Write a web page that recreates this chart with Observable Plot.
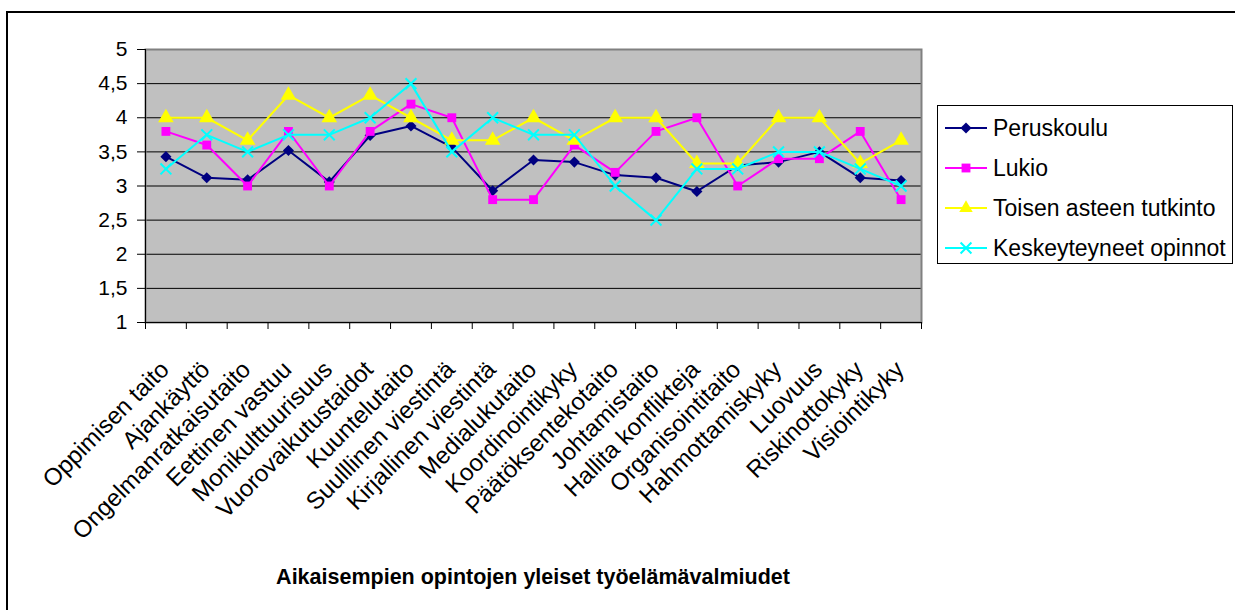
<!DOCTYPE html>
<html><head><meta charset="utf-8">
<script src="https://cdn.jsdelivr.net/npm/d3@7"></script>
<script src="https://cdn.jsdelivr.net/npm/@observablehq/plot@0.6"></script>
<style>
body{margin:0;background:#fff;font-family:Arial,"Liberation Sans",sans-serif;}
#wrap{position:relative;width:1235px;height:610px;overflow:hidden;background:#fff;}
#border{position:absolute;left:6px;top:11px;width:1260px;height:640px;border:2px solid #000;box-sizing:border-box;}
#chart{position:absolute;left:0;top:0;}
#title{position:absolute;left:145px;width:776px;top:565px;line-height:24px;text-align:center;font-weight:bold;font-size:21.5px;color:#000;}
#legend{position:absolute;left:937px;top:105px;}
</style></head><body>
<div id="wrap"><div id="border"></div><div id="chart"></div><div id="title">Aikaisempien opintojen yleiset työelämävalmiudet</div><svg id="legend" width="297" height="160"></svg></div>
<script>
const categories = ["Oppimisen taito","Ajankäyttö","Ongelmanratkaisutaito","Eettinen vastuu","Monikulttuurisuus","Vuorovaikutustaidot","Kuuntelutaito","Suulllinen viestintä","Kirjallinen viestintä","Medialukutaito","Koordinointikyky","Päätöksentekotaito","Johtamistaito","Hallita konflikteja","Organisointitaito","Hahmottamiskyky","Luovuus","Riskinottokyky","Visiointikyky"];
const seriesNames = ["Peruskoulu","Lukio","Toisen asteen tutkinto","Keskeyteyneet opinnot"];
const peruskoulu = [3.43,3.12,3.09,3.52,3.06,3.74,3.88,3.57,2.93,3.38,3.35,3.16,3.12,2.92,3.30,3.35,3.50,3.12,3.08];
const lukio = [3.8,3.6,3.0,3.8,3.0,3.8,4.2,4.0,2.8,2.8,3.6,3.2,3.8,4.0,3.0,3.4,3.4,3.8,2.8];
const toisen = [4.0,4.0,3.67,4.33,4.0,4.33,4.0,3.67,3.67,4.0,3.67,4.0,4.0,3.33,3.33,4.0,4.0,3.33,3.67];
const keskeyt = [3.25,3.75,3.5,3.75,3.75,4.0,4.5,3.5,4.0,3.75,3.75,3.0,2.5,3.25,3.25,3.5,3.5,3.25,3.0];
const yTicks = [1,1.5,2,2.5,3,3.5,4,4.5,5];
const colors = ["#000080","#FF00FF","#FFFF00","#00FFFF"];
const symbols = ["diamond2","square","triangle","times"];

const seriesValues = [peruskoulu, lukio, toisen, keskeyt];
const idx = categories.map((c,i)=>i);
const boundaries = categories.map((c,i)=>i-0.5).concat([categories.length-0.5]);
const tables = seriesValues.map(vals => vals.map((v,i)=>({i, v})));

const marks = [
  Plot.frame({fill:"#c0c0c0", stroke:"none"}),
  Plot.gridY(yTicks.slice(1,-1), {stroke:"#000", strokeOpacity:1, strokeWidth:1}),
  Plot.frame({stroke:"#808080", strokeWidth:2}),
  Plot.ruleX([-0.5], {stroke:"#000", strokeWidth:1}),
  Plot.ruleY([1], {stroke:"#000", strokeWidth:1}),
  Plot.axisY({ticks:yTicks, tickFormat:d=>String(d).replace(".",","), tickSize:8, tickPadding:10, fontSize:21, label:null, stroke:"#000"}),
  Plot.axisX({ticks:boundaries, tickSize:7, tickFormat:()=>"", label:null, stroke:"#000"}),
  Plot.axisX({ticks:idx, tickSize:0, tickPadding:43, dx:-1, tickRotate:-45, tickFormat:i=>categories[i], label:null, fontSize:24})
];
tables.forEach((t,k)=>{
  marks.push(Plot.line(t, {x:"i", y:"v", stroke:colors[k], strokeWidth:2}));
  const filled = k<3;
  marks.push(Plot.dot(t, {x:"i", y:"v", symbol:()=>symbols[k], r: k===2?5.8:5, fill: filled?colors[k]:"none", stroke:colors[k], strokeWidth: filled?0:2}));
});

const chart = Plot.plot({
  width:1235, height:610,
  marginLeft:145, marginRight:314, marginTop:49, marginBottom:288,
  style:{fontFamily:"Arial, 'Liberation Sans', sans-serif", fontSize:"21px", color:"#000", background:"transparent", overflow:"visible"},
  x:{domain:[-0.5, categories.length-0.5]},
  y:{domain:[1,5]},
  symbol:{type:"identity"},
  marks
});
document.getElementById("chart").appendChild(chart);

// legend
const lg = d3.select("#legend");
lg.append("rect").attr("x",0.5).attr("y",0.5).attr("width",295).attr("height",158).attr("fill","#fff").attr("stroke","#000").attr("stroke-width",1);
const d3sym = [d3.symbolDiamond2, d3.symbolSquare, d3.symbolTriangle, d3.symbolTimes];
seriesNames.forEach((name,k)=>{
  const y = 23 + 40*k;
  lg.append("line").attr("x1",8).attr("x2",50).attr("y1",y).attr("y2",y).attr("stroke",colors[k]).attr("stroke-width",2);
  const filled = k<3;
  lg.append("path").attr("transform",`translate(29,${y})`).attr("d", d3.symbol(d3sym[k], Math.PI*25)())
    .attr("fill", filled?colors[k]:"none").attr("stroke", filled?"none":colors[k]).attr("stroke-width",2);
  lg.append("text").attr("x",56).attr("y",y+8).attr("font-size",23).attr("font-family","Arial, 'Liberation Sans', sans-serif").attr("fill","#000").text(name);
});
</script>
</body></html>
